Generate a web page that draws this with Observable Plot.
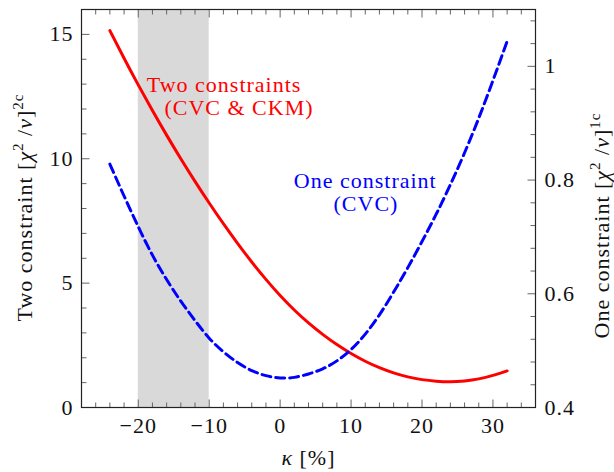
<!DOCTYPE html>
<html>
<head>
<meta charset="utf-8">
<script src="https://cdn.jsdelivr.net/npm/d3@7"></script>
<script src="https://cdn.jsdelivr.net/npm/@observablehq/plot@0.6"></script>
<style>
html, body { margin: 0; padding: 0; background: #fff; }
</style>
</head>
<body>
<div id="chart"></div>
<script>
// ---- data ----
const kappa = [-24,-22,-20,-18,-16,-14,-12,-10,-8,-6,-4,-2,0,2,4,6,8,10,12,14,16,18,20,22,24,26,28,30,32];
// two-constraint chi2/nu (left axis)
const twoConstraint = [15.15,14.04,12.97,11.94,10.95,10.0,9.09,8.22,7.39,6.6,5.85,5.15,4.5,3.92,3.4,2.94,2.53,2.17,1.86,1.6,1.39,1.23,1.12,1.06,1.04,1.07,1.15,1.29,1.47];
// one-constraint chi2/nu (right axis)
const oneConstraint = [0.828,0.772,0.718,0.668,0.625,0.587,0.553,0.522,0.498,0.479,0.465,0.456,0.452,0.453,0.459,0.468,0.482,0.502,0.529,0.563,0.603,0.646,0.692,0.74,0.792,0.848,0.909,0.975,1.044];

const band = [-20, -10];

const xDomain = [-28, 36];
const leftDomain = [0, 16];
const rightDomain = [0.4, 1.1];

const xTicks = [-20, -10, 0, 10, 20, 30];
const xTickLabels = ["−20", "−10", "0", "10", "20", "30"];
const leftTicks = [0, 5, 10, 15];
const leftTickLabels = ["0", "5", "10", "15"];
const rightTicks = [0.4, 0.6, 0.8, 1.0];
const rightTickLabels = ["0.4", "0.6", "0.8", "1"];

// annotation texts and their anchor points (data coordinates, left-axis units)
const annotations = [
  {text: "Two constraints", x: -7.9, y: 12.97, color: "#ff0000"},
  {text: "(CVC & CKM)", x: -5.8, y: 12.03, color: "#ff0000"},
  {text: "One constraint", x: 12.0, y: 9.09, color: "#0000ff"},
  {text: "(CVC)", x: 12.1, y: 8.17, color: "#0000ff"}
];

// ---- helpers ----
const toLeft = d3.scaleLinear().domain(rightDomain).range(leftDomain);
const redData = kappa.map((k, i) => ({k, v: twoConstraint[i]}));
const blueData = kappa.map((k, i) => ({k, v: oneConstraint[i]}));

const xMinor = d3.range(xDomain[0], xDomain[1] + 0.001, 2).filter(d => !xTicks.includes(d));
const leftMinor = d3.range(1, 16.001, 1).filter(d => !leftTicks.includes(d));
const rightMinor = d3.range(0, 18).map(i => +(0.4 + 0.04 * i).toFixed(2)).filter(d => d > 0.4 && d < 1.1 && !rightTicks.some(t => Math.abs(t - d) < 1e-9));

const shape = (ux, uy) => ({draw(ctx, l) { ctx.moveTo(0, 0); ctx.lineTo(ux * l, uy * l); }});
const tickOpts = {stroke: "#666", strokeWidth: 1, strokeLinecap: "butt", anchor: "start"};
function xTickMarks(values, len) {
  return [
    Plot.vector(values, {x: d => d, frameAnchor: "bottom", length: len, shape: shape(0, -1), ...tickOpts}),
    Plot.vector(values, {x: d => d, frameAnchor: "top", length: len, shape: shape(0, 1), ...tickOpts})
  ];
}
function yTickMarks(values, len, side) {
  return Plot.vector(values, {y: d => d, frameAnchor: side, length: len, shape: shape(side === "left" ? 1 : -1, 0), ...tickOpts});
}

const LABEL_X = "@xlabel", LABEL_L = "@ylabel-left", LABEL_R = "@ylabel-right";
const labelOpts = {text: d => d, textAnchor: "middle", lineAnchor: "middle"};

const chart = Plot.plot({
  width: 614,
  height: 472,
  marginLeft: 81,
  marginRight: 79,
  marginTop: 9,
  marginBottom: 65,
  x: {domain: xDomain},
  y: {domain: leftDomain},
  style: {fontFamily: "'Liberation Serif', serif", fontSize: "22px", background: "#fff", color: "#111", letterSpacing: "1px"},
  marks: [
    Plot.rect([band], {x1: d => d[0], x2: d => d[1], fill: "#d9d9d9"}),
    Plot.line(redData, {x: "k", y: "v", stroke: "#ff0000", strokeWidth: 3, curve: "natural"}),
    Plot.line(blueData, {x: "k", y: d => toLeft(d.v), stroke: "#0000ff", strokeWidth: 3, strokeDasharray: "9,5", curve: "natural"}),
    Plot.text(annotations, {x: "x", y: "y", text: "text", fill: "color", fontSize: 22}),
    ...xTickMarks(xTicks, 8),
    ...xTickMarks(xMinor, 5),
    yTickMarks(leftTicks, 8, "left"),
    yTickMarks(leftMinor, 5, "left"),
    yTickMarks(rightTicks.map(toLeft), 8, "right"),
    yTickMarks(rightMinor.map(toLeft), 5, "right"),
    Plot.frame({stroke: "#222", strokeWidth: 1.2}),
    Plot.axisX(xTicks, {tickSize: 0, tickPadding: 10, label: null, tickFormat: d => xTickLabels[xTicks.indexOf(d)]}),
    Plot.axisY(leftTicks, {anchor: "left", tickSize: 0, tickPadding: 8, label: null, tickFormat: d => leftTickLabels[leftTicks.indexOf(d)]}),
    Plot.axisY(rightTicks.map(toLeft), {anchor: "right", tickSize: 0, tickPadding: 9, label: null,
      tickFormat: d => rightTickLabels[rightTicks.findIndex(t => Math.abs(toLeft(t) - d) < 1e-9)]}),
    Plot.text([LABEL_X], {frameAnchor: "bottom", dy: 50, ...labelOpts}),
    Plot.text([LABEL_L], {frameAnchor: "left", dx: -57, dy: -1, rotate: -90, ...labelOpts}),
    Plot.text([LABEL_R], {frameAnchor: "right", dx: 66, dy: 17, rotate: -90, ...labelOpts})
  ]
});
document.getElementById("chart").appendChild(chart);

// rich text (italics, superscripts) for the axis titles
const richLabels = {
  [LABEL_X]: [{t: "κ", it: true}, {t: " [%]"}],
  [LABEL_L]: [{t: "Two constraint ["}, {t: "χ", it: true}, {t: "2", sup: true}, {t: " /"}, {t: "ν", it: true}, {t: "]"}, {t: "2c", sup: true}],
  [LABEL_R]: [{t: "One constraint ["}, {t: "χ", it: true}, {t: "2", sup: true}, {t: " /"}, {t: "ν", it: true}, {t: "]"}, {t: "1c", sup: true}]
};
const svg = d3.select(chart);
svg.selectAll("text").each(function() {
  const parts = richLabels[this.textContent];
  if (!parts) return;
  const txt = d3.select(this);
  txt.text(null);
  let raised = false;
  for (const p of parts) {
    const ts = txt.append("tspan").text(p.t);
    if (p.it) ts.attr("font-style", "italic");
    if (p.sup) {
      ts.attr("font-size", 15);
      if (!raised) { ts.attr("dy", -9); raised = true; }
    } else if (raised) {
      ts.attr("dy", 9); raised = false;
    }
  }
});
</script>
</body>
</html>
